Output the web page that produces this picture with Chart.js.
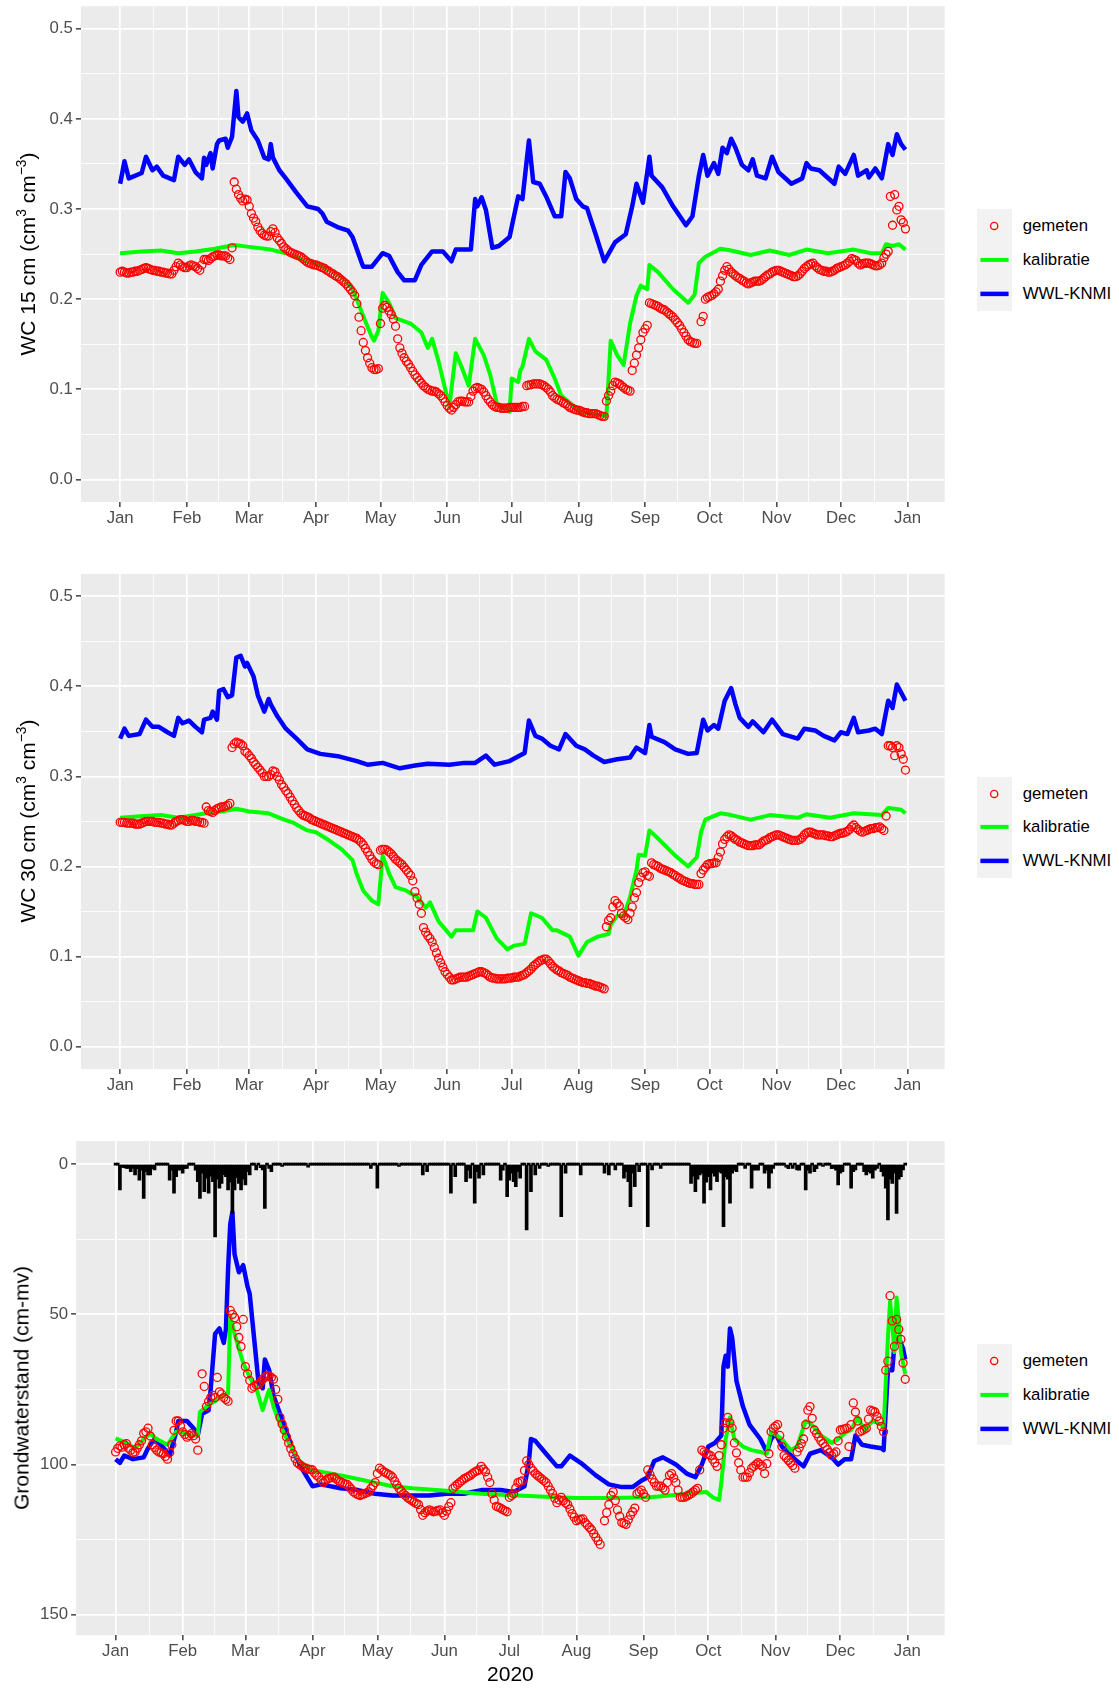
<!DOCTYPE html>
<html>
<head>
<meta charset="utf-8">
<title>Bodemvocht en grondwaterstand 2020</title>
<script src="https://cdn.jsdelivr.net/npm/chart.js@4.4.1/dist/chart.umd.min.js"></script>
<style>
  html, body { margin: 0; padding: 0; background: #ffffff; }
  #page { position: relative; width: 1119px; height: 1688px; overflow: hidden;
          font-family: "Liberation Sans", Arial, Helvetica, sans-serif; }
  canvas { position: absolute; left: 0; }
  .ytitle { position: absolute; white-space: nowrap; font-size: 21px; color: #000;
            line-height: 1; transform: translate(-50%, -50%) rotate(-90deg); }
  .ytitle sup { font-size: 0.66em; line-height: 0; vertical-align: 0.6em; }
  .legend { position: absolute; left: 977.3px; }
  .legend .row { position: relative; height: 33.8px; }
  .legend .key { position: absolute; left: 0; top: 0; width: 34.4px; height: 33.8px; background: #F2F2F2; }
  .legend .key svg { display: block; }
  .legend .lab { position: absolute; left: 45.4px; top: 0; height: 33.8px; line-height: 33.8px;
                 font-size: 16.8px; color: #000; white-space: nowrap; }
</style>
</head>
<body>
<div id="page">
  <canvas id="wc15" width="950" height="555" style="top:0px"></canvas>
  <canvas id="wc30" width="950" height="555" style="top:555px"></canvas>
  <canvas id="gws" width="950" height="578" style="top:1110px"></canvas>
</div>
<script>
// ---- x axis: day of year 2020 (0 = 1 Jan) ----
const monthStarts = [0, 31, 60, 91, 121, 152, 182, 213, 244, 274, 305, 335, 366];
const monthNames = ['Jan', 'Feb', 'Mar', 'Apr', 'May', 'Jun', 'Jul', 'Aug', 'Sep', 'Oct', 'Nov', 'Dec', 'Jan'];

// ---- y axis breaks ----
const wcMajor = [0, 0.1, 0.2, 0.3, 0.4, 0.5];
const wcMinor = [0.05, 0.15, 0.25, 0.35, 0.45];
const gwMajor = [0, 50, 100, 150];
const gwMinor = [25, 75, 125];

// ---- WC 15 cm: [day, cm3/cm3] ----
const wc15Gemeten = [
  [0,.230],[1,.231],[2,.230],[3,.229],[4,.229],[5,.230],[6,.230],[7,.231],[8,.231],[9,.232],[10,.233],[11,.234],[12,.235],[13,.234],[14,.233],[15,.232],[16,.232],[17,.231],[18,.231],[19,.230],[20,.230],[21,.229],[22,.229],[23,.228],[24,.228],[25,.232],[26,.236],[27,.240],[28,.238],[29,.236],[30,.235],[31,.235],[32,.237],[33,.238],[34,.237],[35,.236],[36,.234],[37,.232],[38,.238],[39,.244],[40,.244],[41,.243],[42,.245],[43,.247],[44,.248],[45,.249],[46,.249],[47,.248],[48,.248],[49,.248],[50,.246],[51,.244],[52,.257],
  [53,.330],[54,.322],[55,.316],[56,.312],[57,.309],[58,.311],[59,.310],[60,.303],[61,.295],[62,.290],[63,.286],[64,.280],[65,.276],[66,.273],[67,.271],[68,.270],[69,.270],[70,.275],[71,.278],[72,.274],[73,.268],[74,.265],[75,.262],[76,.258],[77,.256],[78,.254],[79,.252],[80,.251],[81,.250],[82,.249],[83,.248],[84,.247],[85,.245],[86,.243],[87,.241],[88,.240],[89,.239],[90,.238],[91,.238],[92,.237],[93,.236],[94,.235],[95,.234],[96,.232],[97,.231],[98,.229],[99,.228],[100,.226],[101,.225],[102,.223],[103,.221],[104,.219],[105,.217],[106,.214],[107,.211],[108,.208],[109,.204],[110,.195],[111,.180],[112,.165],[113,.152],[114,.143],[115,.135],[116,.129],[117,.124],[118,.122],[119,.122],[120,.123],
  [121,.173],[122,.190],[123,.193],[124,.191],[125,.187],[126,.183],[127,.178],[128,.170],[129,.156],[130,.146],[131,.140],[132,.135],[133,.131],[134,.128],[135,.124],[136,.120],[137,.116],[138,.113],[139,.110],[140,.107],[141,.104],[142,.102],[143,.100],[144,.099],[145,.098],[146,.098],[147,.097],[148,.095],[149,.093],[150,.090],[151,.086],[152,.082],[153,.079],[154,.077],[155,.080],[156,.083],[157,.086],[158,.087],[159,.087],[160,.086],[161,.086],[162,.086],[163,.092],[164,.098],[165,.101],[166,.102],[167,.101],[168,.100],[169,.097],[170,.093],[171,.089],[172,.086],[173,.083],[174,.081],[175,.080],[176,.080],[177,.079],[178,.079],[179,.079],[180,.079],[181,.080],[182,.080],[183,.080],[184,.080],[185,.080],[186,.080],[187,.081],[188,.081],
  [189,.104],[190,.105],[191,.105],[192,.106],[193,.106],[194,.106],[195,.106],[196,.105],[197,.104],[198,.102],[199,.100],[200,.097],[201,.093],[202,.091],[203,.089],[204,.088],[205,.087],[206,.085],[207,.084],[208,.082],[209,.080],[210,.079],[211,.078],[212,.077],[213,.077],[214,.076],[215,.075],[216,.074],[217,.074],[218,.073],[219,.073],[220,.073],[221,.073],[222,.072],[223,.071],[224,.070],[225,.070],
  [226,.087],[227,.093],[228,.098],[229,.104],[230,.108],[231,.107],[232,.106],[233,.104],[234,.102],[235,.100],[236,.099],[237,.098],
  [238,.121],[239,.129],[240,.138],[241,.146],[242,.155],[243,.163],[244,.167],[245,.171],
  [246,.196],[247,.195],[248,.194],[249,.193],[250,.192],[251,.190],[252,.189],[253,.188],[254,.186],[255,.184],[256,.182],[257,.180],[258,.177],[259,.174],[260,.171],[261,.167],[262,.163],[263,.159],[264,.155],[265,.153],[266,.152],[267,.151],[268,.151],
  [270,.175],[271,.181],
  [272,.200],[273,.202],[274,.203],[275,.204],[276,.206],[277,.208],[278,.211],[279,.220],[280,.226],[281,.232],[282,.236],[283,.233],[284,.230],[285,.228],[286,.226],[287,.224],[288,.223],[289,.221],[290,.220],[291,.218],[292,.217],[293,.218],[294,.219],[295,.220],[296,.220],[297,.220],[298,.221],[299,.223],[300,.225],[301,.227],[302,.228],[303,.230],[304,.231],[305,.232],[306,.232],[307,.231],[308,.230],[309,.229],[310,.228],[311,.227],[312,.226],[313,.225],[314,.225],[315,.226],[316,.228],[317,.231],[318,.234],[319,.236],[320,.238],[321,.239],[322,.240],[323,.237],[324,.235],[325,.233],[326,.232],[327,.231],[328,.231],[329,.230],[330,.230],[331,.231],[332,.232],[333,.234],[334,.235],[335,.236],[336,.237],[337,.238],[338,.240],[339,.242],[340,.245],[341,.244],[342,.243],[343,.240],[344,.238],[345,.239],[346,.240],[347,.240],[348,.240],[349,.239],[350,.238],[351,.237],[352,.237],[353,.238],[354,.240],[355,.246],[356,.250],[357,.253],
  [358,.314],[359,.282],[360,.316],[361,.299],[362,.303],[363,.288],[364,.285],[365,.278]
];
const wc15Kalibratie = [
  [0,.251],[10,.253],[19,.254],[27,.251],[35,.253],[44,.256],[53,.260],[60,.258],[70,.255],[77,.251],[87,.242],[93,.238],[102,.226],[107,.215],[110,.200],[113,.181],[117,.158],[118,.154],[120,.165],[122,.207],[125,.196],[128,.179],[135,.173],[140,.163],[143,.146],[145,.156],[148,.131],[153,.081],[156,.140],[159,.123],[162,.104],[165,.156],[169,.138],[172,.116],[175,.085],[181,.075],[182,.112],[185,.108],[186,.121],[187,.125],[190,.156],[193,.142],[198,.133],[202,.112],[205,.093],[209,.085],[214,.075],[221,.072],[226,.070],[228,.154],[231,.138],[234,.127],[237,.173],[240,.204],[242,.215],[245,.211],[246,.238],[250,.230],[257,.211],[264,.196],[267,.205],[269,.240],[272,.247],[279,.256],[284,.254],[293,.249],[302,.254],[311,.249],[319,.255],[329,.251],[341,.255],[349,.251],[354,.251],[356,.261],[359,.259],[362,.261],[365,.255]
];
const wc15Wwl = [
  [0,.328],[2,.353],[4,.334],[6,.336],[10,.340],[12,.358],[15,.343],[17,.347],[20,.337],[25,.332],[27,.358],[30,.349],[32,.355],[35,.341],[38,.334],[39,.357],[40,.349],[42,.362],[43,.345],[45,.372],[46,.376],[49,.378],[50,.368],[52,.380],[54,.431],[55,.402],[57,.397],[59,.406],[61,.387],[64,.376],[67,.357],[69,.355],[70,.372],[71,.357],[74,.343],[77,.334],[82,.318],[87,.303],[92,.300],[94,.295],[96,.286],[101,.280],[106,.276],[108,.269],[112,.242],[113,.236],[117,.236],[122,.251],[125,.248],[129,.230],[132,.221],[137,.221],[140,.238],[145,.253],[150,.253],[154,.242],[156,.255],[163,.255],[165,.311],[166,.303],[168,.313],[170,.299],[173,.257],[176,.259],[181,.269],[185,.314],[187,.311],[190,.376],[192,.330],[195,.328],[198,.314],[202,.292],[205,.292],[207,.341],[209,.334],[212,.311],[215,.303],[217,.301],[221,.272],[225,.242],[230,.263],[235,.272],[238,.303],[240,.328],[243,.307],[246,.358],[247,.337],[252,.324],[257,.303],[263,.282],[266,.292],[269,.337],[271,.360],[273,.337],[276,.351],[278,.339],[280,.368],[282,.362],[284,.378],[286,.368],[289,.349],[292,.343],[294,.355],[296,.337],[300,.334],[303,.358],[306,.341],[312,.328],[317,.334],[319,.351],[321,.345],[325,.343],[332,.328],[334,.347],[337,.339],[341,.360],[343,.337],[347,.343],[348,.335],[351,.345],[354,.334],[357,.372],[359,.360],[361,.383],[363,.372],[365,.366]
];

// ---- WC 30 cm: [day, cm3/cm3] ----
const wc30Gemeten = [
  [0,.249],[1,.249],[2,.249],[3,.248],[4,.248],[5,.248],[6,.248],[7,.247],[8,.247],[9,.247],[10,.248],[11,.249],[12,.250],[13,.250],[14,.250],[15,.250],[16,.249],[17,.249],[18,.249],[19,.248],[20,.248],[21,.247],[22,.247],[23,.246],[24,.246],[25,.248],[26,.250],[27,.251],[28,.252],[29,.252],[30,.251],[31,.250],[32,.250],[33,.251],[34,.251],[35,.250],[36,.250],[37,.249],[38,.249],[39,.248],
  [40,.266],[41,.262],[42,.261],[43,.260],[44,.262],[45,.264],[46,.265],[47,.266],[48,.266],[49,.267],[50,.268],[51,.270],
  [52,.332],[53,.336],[54,.338],[55,.337],[56,.336],[57,.334],[58,.328],[59,.326],[60,.323],[61,.320],[62,.316],[63,.313],[64,.310],[65,.307],[66,.304],[67,.300],[68,.300],[69,.300],[70,.302],[71,.306],[72,.305],[73,.300],[74,.296],[75,.291],[76,.288],[77,.284],[78,.281],[79,.277],[80,.273],[81,.269],[82,.265],[83,.262],[84,.259],[85,.257],[86,.256],[87,.255],[88,.254],[89,.252],[90,.251],[91,.250],[92,.249],[93,.248],[94,.247],[95,.246],[96,.245],[97,.244],[98,.243],[99,.242],[100,.241],[101,.240],[102,.239],[103,.238],[104,.237],[105,.236],[106,.235],[107,.234],[108,.233],[109,.232],[110,.231],[111,.229],[112,.227],[113,.224],[114,.220],[115,.216],[116,.212],[117,.208],[118,.205],[119,.203],[120,.202],
  [121,.218],[122,.219],[123,.219],[124,.218],[125,.216],[126,.214],[127,.211],[128,.208],[129,.206],[130,.204],[131,.202],[132,.199],[133,.196],[134,.193],[135,.190],[136,.184],[137,.172],[138,.165],[139,.158],[140,.148],
  [141,.132],[142,.127],[143,.123],[144,.120],[145,.116],[146,.110],[147,.104],[148,.098],[149,.093],[150,.088],[151,.083],[152,.080],[153,.077],[154,.074],[155,.074],[156,.075],[157,.076],[158,.077],[159,.077],[160,.077],[161,.077],[162,.078],[163,.079],[164,.080],[165,.081],[166,.082],[167,.083],[168,.083],[169,.082],[170,.081],[171,.079],[172,.077],[173,.076],[174,.076],[175,.075],[176,.075],[177,.075],[178,.075],[179,.075],[180,.076],[181,.076],[182,.076],[183,.077],[184,.077],[185,.077],[186,.078],[187,.079],[188,.080],[189,.082],[190,.084],[191,.086],[192,.089],[193,.091],[194,.093],[195,.095],[196,.096],[197,.097],[198,.097],[199,.095],[200,.092],[201,.089],[202,.087],[203,.085],[204,.084],[205,.082],[206,.081],[207,.080],[208,.079],[209,.077],[210,.076],[211,.075],[212,.074],[213,.073],[214,.072],[215,.071],[216,.071],[217,.070],[218,.070],[219,.069],[220,.068],[221,.067],[222,.067],[223,.066],[224,.065],[225,.064],
  [226,.133],[227,.140],[228,.143],[229,.155],[230,.162],[231,.159],[232,.156],[233,.148],[234,.145],[235,.143],[236,.141],[237,.148],[238,.155],[239,.165],[240,.171],[241,.182],[242,.188],[243,.193],[244,.194],[245,.190],[246,.189],
  [247,.204],[248,.202],[249,.201],[250,.200],[251,.198],[252,.197],[253,.196],[254,.195],[255,.194],[256,.193],[257,.191],[258,.190],[259,.188],[260,.187],[261,.185],[262,.184],[263,.183],[264,.182],[265,.181],[266,.181],[267,.180],[268,.180],[269,.180],
  [270,.192],[271,.196],[272,.199],[273,.202],[274,.203],[275,.203],[276,.204],[277,.204],[278,.210],[279,.216],[280,.225],[281,.230],[282,.233],[283,.235],[284,.234],[285,.232],[286,.230],[287,.229],[288,.227],[289,.226],[290,.225],[291,.224],[292,.223],[293,.223],[294,.223],[295,.224],[296,.224],[297,.224],[298,.226],[299,.228],[300,.229],[301,.230],[302,.232],[303,.233],[304,.234],[305,.235],[306,.235],[307,.234],[308,.233],[309,.232],[310,.231],[311,.230],[312,.229],[313,.229],[314,.229],[315,.229],[316,.230],[317,.232],[318,.235],[319,.237],[320,.238],[321,.238],[322,.237],[323,.236],[324,.235],[325,.235],[326,.235],[327,.235],[328,.234],[329,.234],[330,.233],[331,.233],[332,.234],[333,.235],[334,.236],[335,.237],[336,.237],[337,.238],[338,.239],[339,.241],[340,.244],[341,.246],[342,.243],[343,.241],[344,.239],[345,.238],[346,.239],[347,.240],[348,.241],[349,.242],[350,.242],[351,.243],[352,.243],[353,.244],[354,.242],[355,.240],[356,.256],
  [357,.334],[358,.334],[359,.332],[360,.323],[361,.334],[362,.332],[363,.325],[364,.319],[365,.307]
];
const wc30Kalibratie = [
  [0,.254],[11,.256],[19,.257],[27,.254],[35,.257],[40,.259],[47,.261],[54,.264],[60,.261],[69,.259],[75,.253],[80,.249],[87,.240],[91,.238],[97,.229],[103,.219],[108,.207],[110,.191],[113,.173],[117,.162],[120,.158],[122,.212],[125,.192],[128,.177],[133,.173],[138,.166],[142,.154],[144,.160],[148,.139],[154,.122],[156,.129],[164,.129],[166,.150],[170,.143],[175,.120],[180,.108],[183,.112],[188,.114],[191,.148],[196,.143],[201,.129],[203,.129],[209,.122],[213,.101],[217,.116],[222,.122],[227,.125],[228,.135],[231,.145],[234,.145],[237,.166],[240,.196],[241,.213],[244,.212],[246,.240],[250,.231],[258,.212],[264,.200],[268,.210],[270,.238],[272,.252],[279,.259],[284,.257],[293,.252],[302,.257],[315,.254],[319,.258],[330,.254],[341,.259],[354,.257],[357,.265],[360,.264],[363,.263],[365,.259]
];
const wc30Wwl = [
  [0,.342],[2,.353],[4,.345],[9,.347],[12,.363],[15,.355],[18,.355],[22,.349],[25,.345],[27,.365],[29,.359],[32,.362],[35,.355],[38,.349],[39,.363],[42,.365],[43,.372],[45,.363],[46,.395],[48,.397],[50,.388],[52,.390],[54,.432],[56,.434],[58,.422],[59,.426],[62,.411],[64,.390],[67,.372],[69,.386],[70,.380],[73,.367],[77,.353],[82,.342],[87,.330],[93,.325],[102,.322],[110,.317],[115,.313],[122,.315],[130,.309],[137,.312],[143,.314],[153,.313],[160,.315],[165,.315],[170,.323],[174,.313],[181,.317],[188,.326],[190,.362],[193,.345],[196,.342],[200,.334],[204,.330],[207,.347],[212,.334],[216,.330],[220,.323],[225,.316],[231,.319],[237,.321],[240,.332],[244,.326],[246,.357],[247,.344],[253,.338],[258,.330],[264,.325],[268,.326],[271,.363],[273,.351],[276,.357],[278,.353],[281,.384],[284,.398],[286,.380],[288,.365],[292,.355],[294,.361],[299,.349],[303,.363],[308,.347],[315,.342],[318,.353],[323,.351],[327,.345],[332,.340],[335,.349],[338,.347],[341,.365],[343,.349],[348,.351],[351,.353],[354,.347],[357,.384],[359,.376],[361,.402],[363,.393],[365,.384]
];

// ---- Grondwaterstand: [day, cm-mv] ----
const gwGemeten = [
  [0,95.8],[1,94.6],[2,93.8],[3,94.2],[4,93.4],[5,93.0],[6,94.6],[7,95.2],[8,96.0],[9,95.8],[10,94.6],[11,93.4],[12,92.1],[13,89.6],[14,89.1],[15,87.9],[16,90.5],[17,93.4],[18,94.3],[19,95.2],[20,95.8],[21,96.1],[22,96.4],[23,97.3],[24,98.2],[25,96.0],[26,93.4],[27,88.6],[28,85.5],[29,85.5],[30,87.2],[31,89.1],[32,90.0],[33,90.9],[34,90.3],[35,89.7],[36,90.4],[37,91.5],[38,95.2],
  [40,69.8],[41,74.0],[42,80.7],[43,79.0],[44,77.7],[45,77.0],[46,77.7],[47,71.0],[48,75.8],[49,76.5],[50,77.7],[51,78.3],[52,78.9],[53,48.7],[54,50.0],[55,51.1],[56,54.1],[57,57.7],[58,60.7],[59,51.7],[60,67.4],[61,69.8],[62,72.0],[63,74.6],[64,74.0],[65,73.5],[66,73.4],[67,72.5],[68,71.6],[69,71.0],[70,70.4],[71,70.5],[72,71.0],[73,71.6],[74,75.0],[75,78.3],[76,84.3],[77,86.5],[78,88.5],[79,90.8],[80,92.8],[81,94.7],[82,96.4],[83,98.0],[84,99.4],[85,100.0],[86,100.5],[87,101.0],[88,101.2],[89,101.5],[90,101.6],[91,101.8],[92,102.8],[93,103.6],[94,104.2],[95,105.2],[96,106.0],[97,105.3],[98,104.8],[99,104.5],[100,104.3],[101,104.2],[102,104.8],[103,105.4],[104,105.8],[105,106.1],[106,106.4],[107,106.6],[108,107.4],[109,108.2],[110,109.1],[111,109.6],[112,110.0],[113,110.3],[114,110.0],[115,109.7],[116,109.4],[117,109.1],[118,108.0],[119,107.0],[120,106.0],[121,103.0],[122,101.2],[123,101.8],[124,102.4],[125,102.8],[126,103.2],[127,103.6],[128,104.2],[129,105.5],[130,106.8],[131,107.9],[132,108.8],[133,109.7],[134,110.3],[135,111.0],[136,111.5],[137,112.0],[138,112.5],[139,113.0],[140,113.3],[141,115.0],[142,116.9],[143,116.0],[144,115.5],[145,115.1],[146,115.4],[147,115.7],[148,115.5],[149,115.3],[150,115.1],[151,116.0],[152,116.9],[153,115.5],[154,114.0],[155,112.7],[156,107.9],[157,107.2],[158,106.6],[159,106.0],[160,105.4],[161,104.8],[162,104.4],[163,104.0],[164,103.6],[165,103.0],[166,102.5],[167,102.1],[168,101.8],[169,100.6],[170,101.5],[171,102.4],[172,104.2],[173,106.0],[174,109.7],[175,111.8],[176,113.9],[177,114.2],[178,114.5],[179,115.0],[180,115.4],[181,115.7],[182,110.9],[183,110.3],[184,109.7],[185,107.8],[186,106.0],[187,105.7],[188,105.4],[189,102.0],[190,98.8],[191,100.0],[192,101.2],[193,102.1],[194,103.0],[195,103.6],[196,104.2],[197,104.8],[198,105.4],[199,106.0],[200,107.2],[201,108.5],[202,109.7],[203,111.2],[204,112.7],[205,111.8],[206,110.9],[207,112.0],[208,112.8],[209,113.3],[210,114.8],[211,116.3],[212,117.5],[213,118.7],[214,118.4],[215,118.2],[216,118.1],[217,119.3],[218,120.1],[219,120.9],[220,121.7],[221,123.0],[222,124.2],[223,125.4],[224,126.6],
  [226,118.7],[227,116.0],[228,113.3],[229,110.3],[230,109.1],[231,112.0],[232,115.1],[233,117.2],[234,119.3],[235,119.6],[236,119.9],[237,118.4],[238,116.9],[239,115.7],[240,114.5],[241,109.7],[242,109.1],[243,108.5],[244,109.7],[245,110.9],[246,101.8],[247,103.3],[248,104.8],[249,106.0],[250,107.2],[251,107.2],[252,107.2],[253,107.8],[254,108.5],[255,106.0],[256,103.6],[257,103.0],[258,104.5],[259,106.0],[260,108.5],[261,110.9],[262,110.9],[263,110.9],[264,110.5],[265,110.1],[266,109.7],[267,109.1],[268,108.5],[269,107.9],[270,101.8],[271,95.2],[272,95.8],[273,96.4],[274,96.7],[275,97.0],[276,98.2],[277,99.4],[278,100.6],[279,97.0],[280,93.4],[281,87.9],[282,86.1],[283,84.3],[284,86.1],[285,87.9],[286,92.8],[287,96.1],[288,99.4],[289,101.8],[290,104.2],[291,104.2],[292,104.2],[293,102.7],[294,101.2],[295,100.6],[296,100.0],[297,99.4],[298,100.0],[299,100.6],[300,103.0],[301,99.7],[302,96.4],[303,89.1],[304,87.9],[305,87.3],[306,86.7],[307,90.3],[308,94.0],[309,97.0],[310,97.8],[311,98.6],[312,99.4],[313,100.3],[314,101.2],[315,95.8],[316,94.4],[317,93.0],[318,91.5],[319,86.7],[320,81.9],[321,80.7],[322,84.6],[323,88.5],[324,89.7],[325,90.9],[326,92.1],[327,93.0],[328,94.0],[329,95.0],[330,96.0],[331,97.0],[332,96.4],[333,95.8],[334,92.1],[335,88.5],[336,88.3],[337,88.1],[338,87.9],[339,94.0],[340,86.7],[341,79.5],[342,82.5],[343,85.5],[344,89.1],[345,88.7],[346,88.3],[347,87.9],[348,84.9],[349,81.9],[350,82.2],[351,82.5],[352,84.0],[353,85.5],[354,87.3],[355,89.1],[356,68.6],[357,65.6],[358,43.8],[359,52.2],[360,60.7],[361,51.7],[362,55.0],[363,58.3],[364,66.2],[365,71.6]
];
const gwKalibratie = [
  [0,91.3],[5,92.8],[9,94.6],[13,91.5],[16,89.7],[19,91.5],[24,93.4],[28,89.1],[32,89.4],[35,90.3],[38,90.3],[39,82.5],[43,80.1],[46,78.9],[49,77.1],[52,76.4],[53,50.5],[55,56.5],[57,61.4],[59,66.2],[62,71],[65,74.6],[68,81.9],[70,77.1],[71,75.2],[73,80.7],[76,86.7],[80,92.8],[85,98.8],[90,101.8],[95,102.4],[104,103.6],[112,104.8],[120,106],[128,107.2],[137,107.9],[153,108.7],[169,109.7],[186,110.3],[204,110.9],[213,111.1],[230,111.1],[247,110.9],[256,110.3],[264,109.7],[273,109.1],[276,110.9],[279,111.8],[280,106],[282,91.5],[284,84.3],[286,91.5],[290,94],[294,95.2],[298,95.8],[301,96.4],[303,89.1],[308,91.5],[312,95.2],[315,94],[319,85.5],[321,86.1],[326,90.3],[331,92.8],[334,91.5],[338,89.1],[340,88.5],[343,84.3],[346,88.5],[350,85.5],[354,86.7],[355,87.9],[357,57.7],[358,45.7],[359,52.9],[360,62.6],[361,44.4],[362,51.7],[363,62.6],[365,69.8]
];
const gwWwl = [
  [0,98.2],[2,99.4],[4,97],[8,98.2],[13,97.6],[15,94.6],[18,91.5],[21,93.4],[25,97],[28,89.1],[29,85.5],[33,85.5],[36,87.9],[38,90.3],[40,83.1],[43,81.9],[44,74.6],[46,56.5],[48,54.7],[50,59.5],[51,55],[52,35],[53,20],[54,16],[55,30],[56,33],[57,36],[59,33.6],[61,40.8],[62,43.2],[64,57.7],[66,72.2],[68,74.6],[69,65],[71,68.6],[73,77.1],[76,83.1],[79,89.1],[82,95.2],[86,101.2],[91,107.2],[95,106.6],[104,107.9],[112,108.5],[120,109.7],[128,110.3],[145,110.3],[153,109.7],[161,109.7],[169,108.5],[178,108.5],[184,109.1],[189,107.2],[191,99.4],[192,91.5],[194,92.1],[199,96.4],[204,100.6],[206,100.6],[210,97],[215,99.4],[222,103.6],[228,106.6],[234,107.5],[239,107.5],[243,105.4],[246,104.2],[249,98.8],[253,97.6],[259,100],[264,103],[268,104.2],[271,100],[274,94],[277,92.8],[280,90.3],[281,67.4],[282,63.8],[283,67.4],[284,54.7],[285,57.7],[287,72.2],[290,80.7],[293,86.7],[298,91.5],[301,95.8],[303,91.5],[305,89.7],[308,94],[314,98.2],[318,100.6],[321,96.4],[326,95.2],[331,97.6],[334,100],[337,98.2],[340,98.2],[342,90.3],[345,93.4],[349,94],[354,94.6],[355,95.2],[357,68.6],[359,68.6],[360,60.1],[362,57.7],[364,61.4],[365,65]
];

// ---- neerslag per dag (mm), alleen natte dagen: [day, mm] ----
const neerslag = [
  [2,8.6],[3,1],[4,1.2],[5,1.4],[6,1.4],[7,2.5],[8,1.4],[9,3.6],[10,1.5],[11,5.3],[12,2],[13,11.4],[14,2.5],[15,3.6],[16,3.6],[17,1.5],[18,1.9],[25,5.3],[26,2],[27,9.7],[28,4.2],[29,2],[30,1.9],[31,3],[32,1.5],[33,1.4],[37,2],[38,5.8],[39,11.4],[40,3],[41,9.2],[42,4.7],[43,9.7],[44,4],[45,5.8],[46,24.2],[47,5],[48,8],[49,6.4],[50,3.5],[51,4.2],[52,8.6],[53,6],[54,16.4],[55,8.6],[56,4.5],[57,6.4],[58,8.6],[59,5],[60,6.9],[61,2.5],[62,3.6],[65,1.9],[67,1.2],[68,1.9],[69,14.7],[71,1.4],[72,2.5],[77,0.8],[89,1],[118,1.4],[121,8],[131,0.8],[142,3.6],[144,2.5],[155,9.7],[157,4.2],[162,5.8],[163,2],[164,4.7],[166,13],[167,2.5],[168,4.7],[170,3.6],[178,5.3],[179,2],[181,10.8],[182,5.3],[183,3],[184,5.8],[185,7.5],[186,2.5],[187,4.7],[190,21.9],[192,9.2],[194,3.6],[196,1.4],[200,0.8],[206,17.5],[208,3],[215,3.6],[226,3],[228,3.6],[231,1.9],[235,4.7],[236,2.5],[237,5.8],[238,14.2],[239,3],[240,7.5],[242,2.5],[246,20.8],[248,1.9],[252,1.4],[266,6.4],[267,4],[268,9.2],[269,5],[270,3.6],[271,3],[272,13],[273,6],[274,4.2],[275,8.6],[276,3],[277,4],[278,5.8],[279,2.5],[280,3],[281,20.8],[282,4.2],[283,5],[284,13],[285,3],[286,2],[287,2.5],[291,1.4],[294,8],[295,2],[296,1.9],[297,2],[300,3],[301,2],[302,8],[303,3],[304,1.4],[310,1],[311,1.5],[313,1.4],[315,1.9],[316,2],[319,8.6],[320,2],[321,3],[323,2.5],[324,1.5],[327,0.8],[331,1.5],[332,1.4],[333,2],[334,6.9],[335,3],[336,2.5],[340,8],[341,2.5],[342,1.9],[346,2.5],[347,3.6],[348,2.5],[349,3],[350,4.7],[351,2],[352,1.4],[354,2.5],[355,4],[356,8],[357,18.6],[358,5],[359,6.4],[360,3],[361,16.4],[362,5],[363,4.2],[364,1.9]
];

// ---------------------------------------------------------------------------
const FONT = "'Liberation Sans', Arial, Helvetica, sans-serif";
const RED = '#FF0000', GREEN = '#00FF00', BLUE = '#0000FF';

const toXY = pairs => pairs.map(([x, y]) => ({ x, y }));

// Daily rain table (dry days are zero) so that every day has a bar on the baseline
const rainByDay = new Map(neerslag);
const rainDaily = Array.from({ length: 366 }, (_, d) => ({ x: d, y: rainByDay.get(d) || 0 }));

// Major ticks at month starts, minor gridlines halfway between them
const xTickList = [];
monthStarts.forEach((d, i) => {
  xTickList.push({ value: d, isMajor: true, month: monthNames[i] });
  if (i < monthStarts.length - 1) xTickList.push({ value: (d + monthStarts[i + 1]) / 2, isMajor: false, month: '' });
});
xTickList.sort((a, b) => a.value - b.value);

const gridOpts = {
  offset: false,
  color: '#FFFFFF',
  lineWidth: c => (c.tick && c.tick.isMajor) ? 1.7 : 0.85,
  tickColor: c => (c.tick && c.tick.isMajor) ? '#333333' : 'rgba(0,0,0,0)',
  tickLength: 5,
  tickWidth: 1.4,
  drawTicks: true
};

function xScale(axisHeight, title) {
  return {
    type: 'linear',
    offset: false,
    min: -18.25,
    max: 383.25,
    afterBuildTicks: s => { s.ticks = xTickList.map(t => ({ value: t.value, isMajor: t.isMajor, month: t.month })); },
    afterFit: s => { s.height = axisHeight; s.paddingLeft = 0; s.paddingRight = 0; },
    ticks: {
      autoSkip: false, maxRotation: 0, minRotation: 0, padding: 1.5,
      color: '#4D4D4D', font: { family: FONT, size: 16.8 },
      callback: (v, i, ticks) => ticks[i].isMajor ? ticks[i].month : ''
    },
    grid: gridOpts,
    border: { display: false },
    title: title
      ? { display: true, text: title, color: '#000', font: { family: FONT, size: 21 }, padding: { top: 0, bottom: 0.4 } }
      : { display: false }
  };
}

function yScale(min, max, majors, minors, fmt, axisWidth, reverse) {
  const list = majors.map(v => ({ value: v, isMajor: true }))
    .concat(minors.map(v => ({ value: v, isMajor: false })))
    .sort((a, b) => a.value - b.value);
  return {
    type: 'linear',
    offset: false,
    beginAtZero: false,
    min, max, reverse: !!reverse,
    afterBuildTicks: s => { s.ticks = list.map(t => ({ value: t.value, isMajor: t.isMajor })); },
    afterFit: s => { s.width = axisWidth; s.paddingTop = 0; s.paddingBottom = 0; },
    ticks: {
      autoSkip: false, padding: 3,
      color: '#4D4D4D', font: { family: FONT, size: 16.8 },
      callback: (v, i, ticks) => ticks[i].isMajor ? fmt(v) : ''
    },
    grid: gridOpts,
    border: { display: false }
  };
}

// Grey panel background behind the grid
const panelBg = {
  id: 'panelBg',
  beforeDraw(chart) {
    const { ctx, chartArea: a } = chart;
    ctx.save();
    ctx.fillStyle = '#EBEBEB';
    ctx.fillRect(a.left, a.top, a.right - a.left, a.bottom - a.top);
    ctx.restore();
  }
};

function seriesSets(gem, kal, wwl) {
  return [
    { label: 'gemeten', type: 'line', data: toXY(gem), showLine: false, order: 1,
      pointStyle: 'circle', pointRadius: 4, pointBorderWidth: 1.3,
      pointBorderColor: RED, pointBackgroundColor: 'rgba(0,0,0,0)', borderColor: RED },
    { label: 'kalibratie', type: 'line', data: toXY(kal), order: 2,
      borderColor: GREEN, borderWidth: 4, pointRadius: 0, tension: 0,
      borderJoinStyle: 'round', borderCapStyle: 'butt' },
    { label: 'WWL-KNMI', type: 'line', data: toXY(wwl), order: 3,
      borderColor: BLUE, borderWidth: 4.5, pointRadius: 0, tension: 0,
      borderJoinStyle: 'round', borderCapStyle: 'butt' }
  ];
}

function baseOptions(padTop, scales) {
  return {
    responsive: false,
    animation: false,
    events: [],
    layout: { padding: { top: padTop, right: 4.5, left: 0, bottom: 0 } },
    plugins: { legend: { display: false }, tooltip: { enabled: false } },
    scales
  };
}

const fmtWC = v => v.toFixed(1);
const fmtGW = v => String(Math.round(v));

new Chart(document.getElementById('wc15'), {
  type: 'line',
  data: { datasets: seriesSets(wc15Gemeten, wc15Kalibratie, wc15Wwl) },
  options: baseOptions(6.2, {
    x: xScale(53),
    y: yScale(-0.025, 0.525, wcMajor, wcMinor, fmtWC, 80.9)
  }),
  plugins: [panelBg]
});

new Chart(document.getElementById('wc30'), {
  type: 'line',
  data: { datasets: seriesSets(wc30Gemeten, wc30Kalibratie, wc30Wwl) },
  options: baseOptions(18.8, {
    x: xScale(41),
    y: yScale(-0.025, 0.525, wcMajor, wcMinor, fmtWC, 80.9)
  }),
  plugins: [panelBg]
});

const gwSets = seriesSets(gwGemeten, gwKalibratie, gwWwl);
gwSets.unshift({
  label: 'neerslag', type: 'bar', data: rainDaily, order: 0,
  backgroundColor: '#000000', borderWidth: 0, barThickness: 3, minBarLength: 2.2
});
new Chart(document.getElementById('gws'), {
  type: 'line',
  data: { datasets: gwSets },
  options: baseOptions(31, {
    x: xScale(52.8, '2020'),
    y: yScale(-7.7, 156.8, gwMajor, gwMinor, fmtGW, 76.1, true)
  }),
  plugins: [panelBg]
});

// ---- axis titles and legends (HTML) ----
const page = document.getElementById('page');

function yTitle(html, cx, cy) {
  const el = document.createElement('div');
  el.className = 'ytitle';
  el.innerHTML = html;
  el.style.left = cx + 'px';
  el.style.top = cy + 'px';
  page.appendChild(el);
}
yTitle('WC 15 cm (cm<sup>3</sup> cm<sup>\u22123</sup>)', 26.8, 254.1);
yTitle('WC 30 cm (cm<sup>3</sup> cm<sup>\u22123</sup>)', 26.8, 821.4);
yTitle('Grondwaterstand (cm-mv)', 20.7, 1388.2);

const legendItems = [
  { label: 'gemeten', kind: 'point', color: RED },
  { label: 'kalibratie', kind: 'line', color: GREEN, width: 4 },
  { label: 'WWL-KNMI', kind: 'line', color: BLUE, width: 4.5 }
];
function legend(topPx) {
  const box = document.createElement('div');
  box.className = 'legend';
  box.style.top = topPx + 'px';
  legendItems.forEach(it => {
    const row = document.createElement('div');
    row.className = 'row';
    const glyph = it.kind === 'point'
      ? `<circle cx="17.2" cy="16.9" r="3.6" fill="none" stroke="${it.color}" stroke-width="1.3"/>`
      : `<line x1="3.4" y1="16.9" x2="31.6" y2="16.9" stroke="${it.color}" stroke-width="${it.width}"/>`;
    row.innerHTML = `<div class="key"><svg width="34.4" height="33.8" viewBox="0 0 34.4 33.8">${glyph}</svg></div><div class="lab">${it.label}</div>`;
    box.appendChild(row);
  });
  page.appendChild(box);
}
legend(209.3);
legend(776.6);
legend(1344.1);
</script>
</body>
</html>
